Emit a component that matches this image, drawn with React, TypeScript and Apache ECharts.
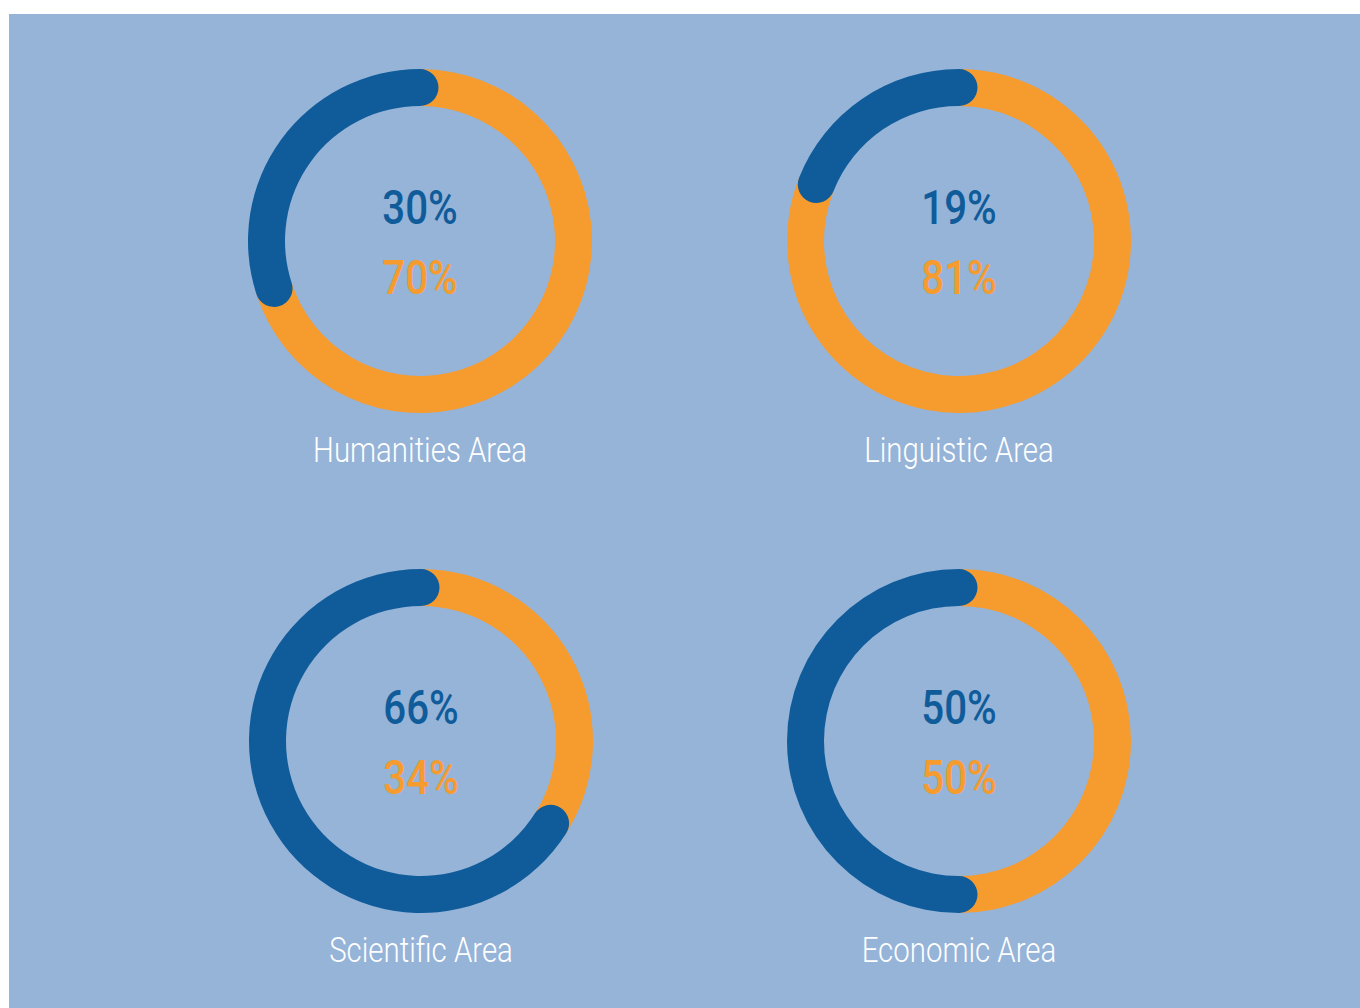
import React, { useEffect, useRef } from "react";
import * as echarts from "echarts";

const categories = ["Humanities Area", "Linguistic Area", "Scientific Area", "Economic Area"];
const blueValues = [30, 19, 66, 50];
const orangeValues = [70, 81, 34, 50];

const BG = "#96b4d8";
const BLUE = "#105c9a";
const ORANGE = "#f69b2e";
const FONT = "Roboto, 'Liberation Sans', sans-serif";

const centers: [number, number][] = [
  [411, 227],
  [950, 227],
  [412, 727],
  [950, 727],
];

export default function App() {
  const ref = useRef<HTMLDivElement>(null);
  useEffect(() => {
    if (!ref.current) return;
    const chart = echarts.init(ref.current, undefined, { renderer: "svg" });
    const polar: any[] = [];
    const angleAxis: any[] = [];
    const radiusAxis: any[] = [];
    const series: any[] = [];
    const graphic: any[] = [];
    categories.forEach((cat, i) => {
      const [cx, cy] = centers[i];
      polar.push({ center: [cx, cy], radius: [135, 172] });
      angleAxis.push({
        polarIndex: i,
        type: "value",
        min: 0,
        max: 100,
        startAngle: 90,
        clockwise: false,
        show: false,
      });
      radiusAxis.push({ polarIndex: i, type: "category", data: [cat], show: false });
      series.push({
        type: "bar",
        name: cat + " blue",
        coordinateSystem: "polar",
        polarIndex: i,
        stack: "s" + i,
        data: [blueValues[i]],
        roundCap: true,
        barWidth: "100%",
        itemStyle: { color: BLUE },
        z: 3,
        silent: true,
      });
      series.push({
        type: "bar",
        name: cat + " orange",
        coordinateSystem: "polar",
        polarIndex: i,
        stack: "s" + i,
        data: [orangeValues[i]],
        barWidth: "100%",
        itemStyle: { color: ORANGE },
        z: 2,
        silent: true,
      });
      graphic.push({
        type: "text",
        x: cx,
        y: cy - 33,
        scaleX: 0.84,
        style: {
          text: blueValues[i] + "%",
          fill: BLUE,
          font: `500 48px ${FONT}`,
          textAlign: "center",
          textVerticalAlign: "middle",
        },
      });
      graphic.push({
        type: "text",
        x: cx,
        y: cy + 37,
        scaleX: 0.84,
        style: {
          text: orangeValues[i] + "%",
          fill: ORANGE,
          font: `500 48px ${FONT}`,
          textAlign: "center",
          textVerticalAlign: "middle",
        },
      });
      graphic.push({
        type: "text",
        x: cx,
        y: cy + 209,
        scaleX: 0.84,
        style: {
          text: cat,
          fill: "#ffffff",
          font: `300 35px ${FONT}`,
          textAlign: "center",
          textVerticalAlign: "middle",
        },
      });
    });
    chart.setOption({
      animation: false,
      backgroundColor: BG,
      polar,
      angleAxis,
      radiusAxis,
      series,
      graphic,
    });
    return () => chart.dispose();
  }, []);
  return (
    <div
      ref={ref}
      style={{ position: "absolute", left: 9, top: 14, width: 1351, height: 994 }}
    />
  );
}
